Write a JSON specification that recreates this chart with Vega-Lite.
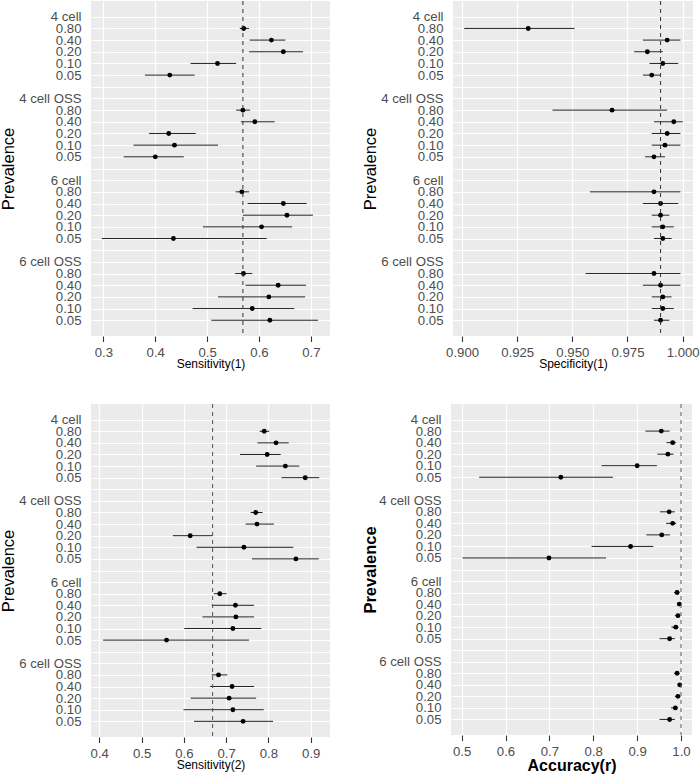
{
"$schema": "https://vega.github.io/schema/vega-lite/v6.json",
"padding": 0,
"datasets": {
"d": [
{"m":"sens1","g":"4 cell","p":"0.80","est":0.5705,"lo":0.563,"hi":0.581},
{"m":"sens1","g":"4 cell","p":"0.40","est":0.624,"lo":0.582,"hi":0.651},
{"m":"sens1","g":"4 cell","p":"0.20","est":0.647,"lo":0.581,"hi":0.685},
{"m":"sens1","g":"4 cell","p":"0.10","est":0.520,"lo":0.468,"hi":0.556},
{"m":"sens1","g":"4 cell","p":"0.05","est":0.428,"lo":0.380,"hi":0.476},
{"m":"sens1","g":"4 cell OSS","p":"0.80","est":0.569,"lo":0.556,"hi":0.583},
{"m":"sens1","g":"4 cell OSS","p":"0.40","est":0.592,"lo":0.565,"hi":0.630},
{"m":"sens1","g":"4 cell OSS","p":"0.20","est":0.426,"lo":0.388,"hi":0.478},
{"m":"sens1","g":"4 cell OSS","p":"0.10","est":0.437,"lo":0.358,"hi":0.521},
{"m":"sens1","g":"4 cell OSS","p":"0.05","est":0.400,"lo":0.339,"hi":0.455},
{"m":"sens1","g":"6 cell","p":"0.80","est":0.567,"lo":0.555,"hi":0.581},
{"m":"sens1","g":"6 cell","p":"0.40","est":0.647,"lo":0.578,"hi":0.692},
{"m":"sens1","g":"6 cell","p":"0.20","est":0.654,"lo":0.569,"hi":0.704},
{"m":"sens1","g":"6 cell","p":"0.10","est":0.605,"lo":0.492,"hi":0.664},
{"m":"sens1","g":"6 cell","p":"0.05","est":0.435,"lo":0.297,"hi":0.615},
{"m":"sens1","g":"6 cell OSS","p":"0.80","est":0.570,"lo":0.554,"hi":0.587},
{"m":"sens1","g":"6 cell OSS","p":"0.40","est":0.637,"lo":0.574,"hi":0.691},
{"m":"sens1","g":"6 cell OSS","p":"0.20","est":0.619,"lo":0.521,"hi":0.689},
{"m":"sens1","g":"6 cell OSS","p":"0.10","est":0.587,"lo":0.472,"hi":0.668},
{"m":"sens1","g":"6 cell OSS","p":"0.05","est":0.621,"lo":0.508,"hi":0.714},
{"m":"spec1","g":"4 cell","p":"0.80","est":0.930,"lo":0.901,"hi":0.951},
{"m":"spec1","g":"4 cell","p":"0.40","est":0.993,"lo":0.982,"hi":0.999},
{"m":"spec1","g":"4 cell","p":"0.20","est":0.984,"lo":0.978,"hi":0.991},
{"m":"spec1","g":"4 cell","p":"0.10","est":0.991,"lo":0.985,"hi":0.998},
{"m":"spec1","g":"4 cell","p":"0.05","est":0.986,"lo":0.982,"hi":0.990},
{"m":"spec1","g":"4 cell OSS","p":"0.80","est":0.968,"lo":0.941,"hi":0.993},
{"m":"spec1","g":"4 cell OSS","p":"0.40","est":0.996,"lo":0.987,"hi":1.000},
{"m":"spec1","g":"4 cell OSS","p":"0.20","est":0.993,"lo":0.986,"hi":0.999},
{"m":"spec1","g":"4 cell OSS","p":"0.10","est":0.992,"lo":0.986,"hi":0.999},
{"m":"spec1","g":"4 cell OSS","p":"0.05","est":0.987,"lo":0.983,"hi":0.992},
{"m":"spec1","g":"6 cell","p":"0.80","est":0.987,"lo":0.958,"hi":0.999},
{"m":"spec1","g":"6 cell","p":"0.40","est":0.990,"lo":0.982,"hi":0.998},
{"m":"spec1","g":"6 cell","p":"0.20","est":0.990,"lo":0.986,"hi":0.994},
{"m":"spec1","g":"6 cell","p":"0.10","est":0.991,"lo":0.986,"hi":0.996},
{"m":"spec1","g":"6 cell","p":"0.05","est":0.991,"lo":0.987,"hi":0.995},
{"m":"spec1","g":"6 cell OSS","p":"0.80","est":0.987,"lo":0.956,"hi":0.999},
{"m":"spec1","g":"6 cell OSS","p":"0.40","est":0.990,"lo":0.982,"hi":0.999},
{"m":"spec1","g":"6 cell OSS","p":"0.20","est":0.991,"lo":0.986,"hi":0.995},
{"m":"spec1","g":"6 cell OSS","p":"0.10","est":0.991,"lo":0.986,"hi":0.996},
{"m":"spec1","g":"6 cell OSS","p":"0.05","est":0.990,"lo":0.987,"hi":0.994},
{"m":"sens2","g":"4 cell","p":"0.80","est":0.790,"lo":0.779,"hi":0.802},
{"m":"sens2","g":"4 cell","p":"0.40","est":0.818,"lo":0.774,"hi":0.848},
{"m":"sens2","g":"4 cell","p":"0.20","est":0.797,"lo":0.733,"hi":0.829},
{"m":"sens2","g":"4 cell","p":"0.10","est":0.840,"lo":0.771,"hi":0.873},
{"m":"sens2","g":"4 cell","p":"0.05","est":0.887,"lo":0.831,"hi":0.920},
{"m":"sens2","g":"4 cell OSS","p":"0.80","est":0.770,"lo":0.758,"hi":0.786},
{"m":"sens2","g":"4 cell OSS","p":"0.40","est":0.773,"lo":0.746,"hi":0.813},
{"m":"sens2","g":"4 cell OSS","p":"0.20","est":0.615,"lo":0.574,"hi":0.667},
{"m":"sens2","g":"4 cell OSS","p":"0.10","est":0.742,"lo":0.630,"hi":0.859},
{"m":"sens2","g":"4 cell OSS","p":"0.05","est":0.865,"lo":0.761,"hi":0.919},
{"m":"sens2","g":"6 cell","p":"0.80","est":0.685,"lo":0.671,"hi":0.701},
{"m":"sens2","g":"6 cell","p":"0.40","est":0.722,"lo":0.666,"hi":0.766},
{"m":"sens2","g":"6 cell","p":"0.20","est":0.723,"lo":0.644,"hi":0.766},
{"m":"sens2","g":"6 cell","p":"0.10","est":0.716,"lo":0.601,"hi":0.783},
{"m":"sens2","g":"6 cell","p":"0.05","est":0.559,"lo":0.409,"hi":0.754},
{"m":"sens2","g":"6 cell OSS","p":"0.80","est":0.682,"lo":0.666,"hi":0.703},
{"m":"sens2","g":"6 cell OSS","p":"0.40","est":0.714,"lo":0.662,"hi":0.766},
{"m":"sens2","g":"6 cell OSS","p":"0.20","est":0.707,"lo":0.616,"hi":0.771},
{"m":"sens2","g":"6 cell OSS","p":"0.10","est":0.716,"lo":0.599,"hi":0.789},
{"m":"sens2","g":"6 cell OSS","p":"0.05","est":0.740,"lo":0.624,"hi":0.811},
{"m":"acc","g":"4 cell","p":"0.80","est":0.955,"lo":0.919,"hi":0.974},
{"m":"acc","g":"4 cell","p":"0.40","est":0.981,"lo":0.967,"hi":0.989},
{"m":"acc","g":"4 cell","p":"0.20","est":0.970,"lo":0.946,"hi":0.983},
{"m":"acc","g":"4 cell","p":"0.10","est":0.900,"lo":0.819,"hi":0.945},
{"m":"acc","g":"4 cell","p":"0.05","est":0.726,"lo":0.540,"hi":0.845},
{"m":"acc","g":"4 cell OSS","p":"0.80","est":0.973,"lo":0.952,"hi":0.986},
{"m":"acc","g":"4 cell OSS","p":"0.40","est":0.981,"lo":0.966,"hi":0.989},
{"m":"acc","g":"4 cell OSS","p":"0.20","est":0.956,"lo":0.921,"hi":0.975},
{"m":"acc","g":"4 cell OSS","p":"0.10","est":0.885,"lo":0.796,"hi":0.937},
{"m":"acc","g":"4 cell OSS","p":"0.05","est":0.699,"lo":0.502,"hi":0.829},
{"m":"acc","g":"6 cell","p":"0.80","est":0.991,"lo":0.984,"hi":0.996},
{"m":"acc","g":"6 cell","p":"0.40","est":0.996,"lo":0.991,"hi":0.999},
{"m":"acc","g":"6 cell","p":"0.20","est":0.993,"lo":0.986,"hi":0.997},
{"m":"acc","g":"6 cell","p":"0.10","est":0.988,"lo":0.978,"hi":0.994},
{"m":"acc","g":"6 cell","p":"0.05","est":0.974,"lo":0.951,"hi":0.986},
{"m":"acc","g":"6 cell OSS","p":"0.80","est":0.991,"lo":0.984,"hi":0.996},
{"m":"acc","g":"6 cell OSS","p":"0.40","est":0.997,"lo":0.993,"hi":0.999},
{"m":"acc","g":"6 cell OSS","p":"0.20","est":0.993,"lo":0.986,"hi":0.997},
{"m":"acc","g":"6 cell OSS","p":"0.10","est":0.987,"lo":0.977,"hi":0.993},
{"m":"acc","g":"6 cell OSS","p":"0.05","est":0.974,"lo":0.951,"hi":0.986}
]
},
"vconcat": [
{"hconcat": [
{
"width": 239, "height": 335,
"layer": [
{"data": {"name": "d"}, "transform": [{"filter": "datum.m=='sens1'"}, {"calculate": "datum.g+'|'+datum.p", "as": "key"}],
 "mark": {"type": "rule", "color": "#222", "strokeWidth": 1},
 "encoding": {
  "y": {"field": "key", "type": "nominal", "scale": {"type": "point", "padding": 0.35, "domain": ["t0","4 cell|H","4 cell|0.80","4 cell|0.40","4 cell|0.20","4 cell|0.10","4 cell|0.05","sp1","4 cell OSS|H","4 cell OSS|0.80","4 cell OSS|0.40","4 cell OSS|0.20","4 cell OSS|0.10","4 cell OSS|0.05","sp2","6 cell|H","6 cell|0.80","6 cell|0.40","6 cell|0.20","6 cell|0.10","6 cell|0.05","sp3","6 cell OSS|H","6 cell OSS|0.80","6 cell OSS|0.40","6 cell OSS|0.20","6 cell OSS|0.10","6 cell OSS|0.05","t9"]},
   "axis": {"title": "Prevalence", "values": ["4 cell|H","4 cell|0.80","4 cell|0.40","4 cell|0.20","4 cell|0.10","4 cell|0.05","sp1","4 cell OSS|H","4 cell OSS|0.80","4 cell OSS|0.40","4 cell OSS|0.20","4 cell OSS|0.10","4 cell OSS|0.05","sp2","6 cell|H","6 cell|0.80","6 cell|0.40","6 cell|0.20","6 cell|0.10","6 cell|0.05","sp3","6 cell OSS|H","6 cell OSS|0.80","6 cell OSS|0.40","6 cell OSS|0.20","6 cell OSS|0.10","6 cell OSS|0.05"],
    "labelExpr": "indexof(datum.value,'|')<0 ? '' : split(datum.value,'|')[1]=='H' ? (indexof(datum.value,'OSS')<0 ? split(datum.value,'|')[0]+'\u00a0\u00a0\u00a0\u00a0\u00a0\u00a0\u00a0\u00a0' : split(datum.value,'|')[0]) : split(datum.value,'|')[1]"}},
  "x": {"field": "lo", "type": "quantitative", "scale": {"domain": [0.276, 0.737], "nice": false, "zero": false},
   "axis": {"title": "Sensitivity(1)", "values": [0.3,0.35,0.4,0.45,0.5,0.55,0.6,0.65,0.7],
    "labelExpr": "abs(datum.value*10-round(datum.value*10))<0.001 ? format(datum.value,'.1f') : ''",
    "gridWidth": {"condition": {"test": "abs(datum.value*10-round(datum.value*10))<0.001", "value": 1.2}, "value": 0.6},
    "tickOpacity": {"condition": {"test": "abs(datum.value*10-round(datum.value*10))<0.001", "value": 1}, "value": 0}}},
  "x2": {"field": "hi"}
 }},
{"data": {"name": "d"}, "transform": [{"filter": "datum.m=='sens1'"}, {"calculate": "datum.g+'|'+datum.p", "as": "key"}],
 "mark": {"type": "circle", "color": "black", "size": 24, "opacity": 1},
 "encoding": {"y": {"field": "key", "type": "nominal"}, "x": {"field": "est", "type": "quantitative"}}},
{"data": {"values": [{"ref": 0.569}]},
 "mark": {"type": "rule", "color": "#333", "strokeWidth": 1, "strokeDash": [4, 4]},
 "encoding": {"x": {"field": "ref", "type": "quantitative"}}}
]
},
{
"width": 240, "height": 335,
"layer": [
{"data": {"name": "d"}, "transform": [{"filter": "datum.m=='spec1'"}, {"calculate": "datum.g+'|'+datum.p", "as": "key"}],
 "mark": {"type": "rule", "color": "#222", "strokeWidth": 1},
 "encoding": {
  "y": {"field": "key", "type": "nominal", "scale": {"type": "point", "padding": 0.35, "domain": ["t0","4 cell|H","4 cell|0.80","4 cell|0.40","4 cell|0.20","4 cell|0.10","4 cell|0.05","sp1","4 cell OSS|H","4 cell OSS|0.80","4 cell OSS|0.40","4 cell OSS|0.20","4 cell OSS|0.10","4 cell OSS|0.05","sp2","6 cell|H","6 cell|0.80","6 cell|0.40","6 cell|0.20","6 cell|0.10","6 cell|0.05","sp3","6 cell OSS|H","6 cell OSS|0.80","6 cell OSS|0.40","6 cell OSS|0.20","6 cell OSS|0.10","6 cell OSS|0.05","t9"]},
   "axis": {"title": "Prevalence", "values": ["4 cell|H","4 cell|0.80","4 cell|0.40","4 cell|0.20","4 cell|0.10","4 cell|0.05","sp1","4 cell OSS|H","4 cell OSS|0.80","4 cell OSS|0.40","4 cell OSS|0.20","4 cell OSS|0.10","4 cell OSS|0.05","sp2","6 cell|H","6 cell|0.80","6 cell|0.40","6 cell|0.20","6 cell|0.10","6 cell|0.05","sp3","6 cell OSS|H","6 cell OSS|0.80","6 cell OSS|0.40","6 cell OSS|0.20","6 cell OSS|0.10","6 cell OSS|0.05"],
    "labelExpr": "indexof(datum.value,'|')<0 ? '' : split(datum.value,'|')[1]=='H' ? (indexof(datum.value,'OSS')<0 ? split(datum.value,'|')[0]+'\u00a0\u00a0\u00a0\u00a0\u00a0\u00a0\u00a0\u00a0' : split(datum.value,'|')[0]) : split(datum.value,'|')[1]"}},
  "x": {"field": "lo", "type": "quantitative", "scale": {"domain": [0.8959, 1.0047], "nice": false, "zero": false},
   "axis": {"title": "Specificity(1)", "values": [0.9,0.9125,0.925,0.9375,0.95,0.9625,0.975,0.9875,1.0],
    "labelExpr": "abs(datum.value*40-round(datum.value*40))<0.001 ? format(datum.value,'.3f') : ''",
    "gridWidth": {"condition": {"test": "abs(datum.value*40-round(datum.value*40))<0.001", "value": 1.2}, "value": 0.6},
    "tickOpacity": {"condition": {"test": "abs(datum.value*40-round(datum.value*40))<0.001", "value": 1}, "value": 0}}},
  "x2": {"field": "hi"}
 }},
{"data": {"name": "d"}, "transform": [{"filter": "datum.m=='spec1'"}, {"calculate": "datum.g+'|'+datum.p", "as": "key"}],
 "mark": {"type": "circle", "color": "black", "size": 24, "opacity": 1},
 "encoding": {"y": {"field": "key", "type": "nominal"}, "x": {"field": "est", "type": "quantitative"}}},
{"data": {"values": [{"ref": 0.99}]},
 "mark": {"type": "rule", "color": "#333", "strokeWidth": 1, "strokeDash": [4, 4]},
 "encoding": {"x": {"field": "ref", "type": "quantitative"}}}
]
}
], "spacing": 32},
{"hconcat": [
{
"width": 239, "height": 333,
"layer": [
{"data": {"name": "d"}, "transform": [{"filter": "datum.m=='sens2'"}, {"calculate": "datum.g+'|'+datum.p", "as": "key"}],
 "mark": {"type": "rule", "color": "#222", "strokeWidth": 1},
 "encoding": {
  "y": {"field": "key", "type": "nominal", "scale": {"type": "point", "padding": 0.35, "domain": ["t0","4 cell|H","4 cell|0.80","4 cell|0.40","4 cell|0.20","4 cell|0.10","4 cell|0.05","sp1","4 cell OSS|H","4 cell OSS|0.80","4 cell OSS|0.40","4 cell OSS|0.20","4 cell OSS|0.10","4 cell OSS|0.05","sp2","6 cell|H","6 cell|0.80","6 cell|0.40","6 cell|0.20","6 cell|0.10","6 cell|0.05","sp3","6 cell OSS|H","6 cell OSS|0.80","6 cell OSS|0.40","6 cell OSS|0.20","6 cell OSS|0.10","6 cell OSS|0.05","t9"]},
   "axis": {"title": "Prevalence", "values": ["4 cell|H","4 cell|0.80","4 cell|0.40","4 cell|0.20","4 cell|0.10","4 cell|0.05","sp1","4 cell OSS|H","4 cell OSS|0.80","4 cell OSS|0.40","4 cell OSS|0.20","4 cell OSS|0.10","4 cell OSS|0.05","sp2","6 cell|H","6 cell|0.80","6 cell|0.40","6 cell|0.20","6 cell|0.10","6 cell|0.05","sp3","6 cell OSS|H","6 cell OSS|0.80","6 cell OSS|0.40","6 cell OSS|0.20","6 cell OSS|0.10","6 cell OSS|0.05"],
    "labelExpr": "indexof(datum.value,'|')<0 ? '' : split(datum.value,'|')[1]=='H' ? (indexof(datum.value,'OSS')<0 ? split(datum.value,'|')[0]+'\u00a0\u00a0\u00a0\u00a0\u00a0\u00a0\u00a0\u00a0' : split(datum.value,'|')[0]) : split(datum.value,'|')[1]"}},
  "x": {"field": "lo", "type": "quantitative", "scale": {"domain": [0.3804, 0.9456], "nice": false, "zero": false},
   "axis": {"title": "Sensitivity(2)", "values": [0.4,0.45,0.5,0.55,0.6,0.65,0.7,0.75,0.8,0.85,0.9],
    "labelExpr": "abs(datum.value*10-round(datum.value*10))<0.001 ? format(datum.value,'.1f') : ''",
    "gridWidth": {"condition": {"test": "abs(datum.value*10-round(datum.value*10))<0.001", "value": 1.2}, "value": 0.6},
    "tickOpacity": {"condition": {"test": "abs(datum.value*10-round(datum.value*10))<0.001", "value": 1}, "value": 0}}},
  "x2": {"field": "hi"}
 }},
{"data": {"name": "d"}, "transform": [{"filter": "datum.m=='sens2'"}, {"calculate": "datum.g+'|'+datum.p", "as": "key"}],
 "mark": {"type": "circle", "color": "black", "size": 24, "opacity": 1},
 "encoding": {"y": {"field": "key", "type": "nominal"}, "x": {"field": "est", "type": "quantitative"}}},
{"data": {"values": [{"ref": 0.668}]},
 "mark": {"type": "rule", "color": "#555", "strokeWidth": 1, "strokeDash": [4, 4]},
 "encoding": {"x": {"field": "ref", "type": "quantitative"}}}
]
},
{
"width": 241, "height": 331,
"layer": [
{"data": {"name": "d"}, "transform": [{"filter": "datum.m=='acc'"}, {"calculate": "datum.g+'|'+datum.p", "as": "key"}],
 "mark": {"type": "rule", "color": "#222", "strokeWidth": 1},
 "encoding": {
  "y": {"field": "key", "type": "nominal", "scale": {"type": "point", "padding": 0.35, "domain": ["t0","4 cell|H","4 cell|0.80","4 cell|0.40","4 cell|0.20","4 cell|0.10","4 cell|0.05","sp1","4 cell OSS|H","4 cell OSS|0.80","4 cell OSS|0.40","4 cell OSS|0.20","4 cell OSS|0.10","4 cell OSS|0.05","sp2","6 cell|H","6 cell|0.80","6 cell|0.40","6 cell|0.20","6 cell|0.10","6 cell|0.05","sp3","6 cell OSS|H","6 cell OSS|0.80","6 cell OSS|0.40","6 cell OSS|0.20","6 cell OSS|0.10","6 cell OSS|0.05","t9"]},
   "axis": {"title": "Prevalence", "titleFontWeight": "bold", "titlePadding": 0, "values": ["4 cell|H","4 cell|0.80","4 cell|0.40","4 cell|0.20","4 cell|0.10","4 cell|0.05","sp1","4 cell OSS|H","4 cell OSS|0.80","4 cell OSS|0.40","4 cell OSS|0.20","4 cell OSS|0.10","4 cell OSS|0.05","sp2","6 cell|H","6 cell|0.80","6 cell|0.40","6 cell|0.20","6 cell|0.10","6 cell|0.05","sp3","6 cell OSS|H","6 cell OSS|0.80","6 cell OSS|0.40","6 cell OSS|0.20","6 cell OSS|0.10","6 cell OSS|0.05"],
    "labelExpr": "indexof(datum.value,'|')<0 ? '' : split(datum.value,'|')[1]=='H' ? (indexof(datum.value,'OSS')<0 ? split(datum.value,'|')[0]+'\u00a0\u00a0\u00a0\u00a0\u00a0\u00a0\u00a0\u00a0' : split(datum.value,'|')[0]) : split(datum.value,'|')[1]"}},
  "x": {"field": "lo", "type": "quantitative", "scale": {"domain": [0.4757, 1.025], "nice": false, "zero": false},
   "axis": {"title": "Accuracy(r)", "titleFontWeight": "bold", "titleFontSize": 16, "values": [0.5,0.55,0.6,0.65,0.7,0.75,0.8,0.85,0.9,0.95,1.0],
    "labelExpr": "abs(datum.value*10-round(datum.value*10))<0.001 ? format(datum.value,'.1f') : ''",
    "gridWidth": {"condition": {"test": "abs(datum.value*10-round(datum.value*10))<0.001", "value": 1.2}, "value": 0.6},
    "tickOpacity": {"condition": {"test": "abs(datum.value*10-round(datum.value*10))<0.001", "value": 1}, "value": 0}}},
  "x2": {"field": "hi"}
 }},
{"data": {"name": "d"}, "transform": [{"filter": "datum.m=='acc'"}, {"calculate": "datum.g+'|'+datum.p", "as": "key"}],
 "mark": {"type": "circle", "color": "black", "size": 24, "opacity": 1},
 "encoding": {"y": {"field": "key", "type": "nominal"}, "x": {"field": "est", "type": "quantitative"}}},
{"data": {"values": [{"ref": 1.0}]},
 "mark": {"type": "rule", "color": "#555", "strokeWidth": 1, "strokeDash": [4, 4]},
 "encoding": {"x": {"field": "ref", "type": "quantitative"}}}
]
}
], "spacing": 32}
],
"spacing": 33,
"config": {
 "font": "Liberation Sans",
 "view": {"fill": "#EBEBEB", "stroke": null},
 "axis": {"domain": false, "grid": true, "gridColor": "white", "labelColor": "#4D4D4D", "labelFontSize": 13.2, "labelFont": "Liberation Sans", "titleFont": "Liberation Sans", "titleColor": "black", "titleFontWeight": "normal"},
 "axisY": {"ticks": false, "labelPadding": 10, "gridWidth": 1.2, "minExtent": 73, "maxExtent": 73, "titlePadding": 2, "titleFontSize": 16.5},
 "axisX": {"tickColor": "#333", "tickSize": 5.5, "tickWidth": 1.1, "labelPadding": 5, "titlePadding": 0, "titleFontSize": 12, "labelFlush": false, "labelOverlap": false}
}
}
